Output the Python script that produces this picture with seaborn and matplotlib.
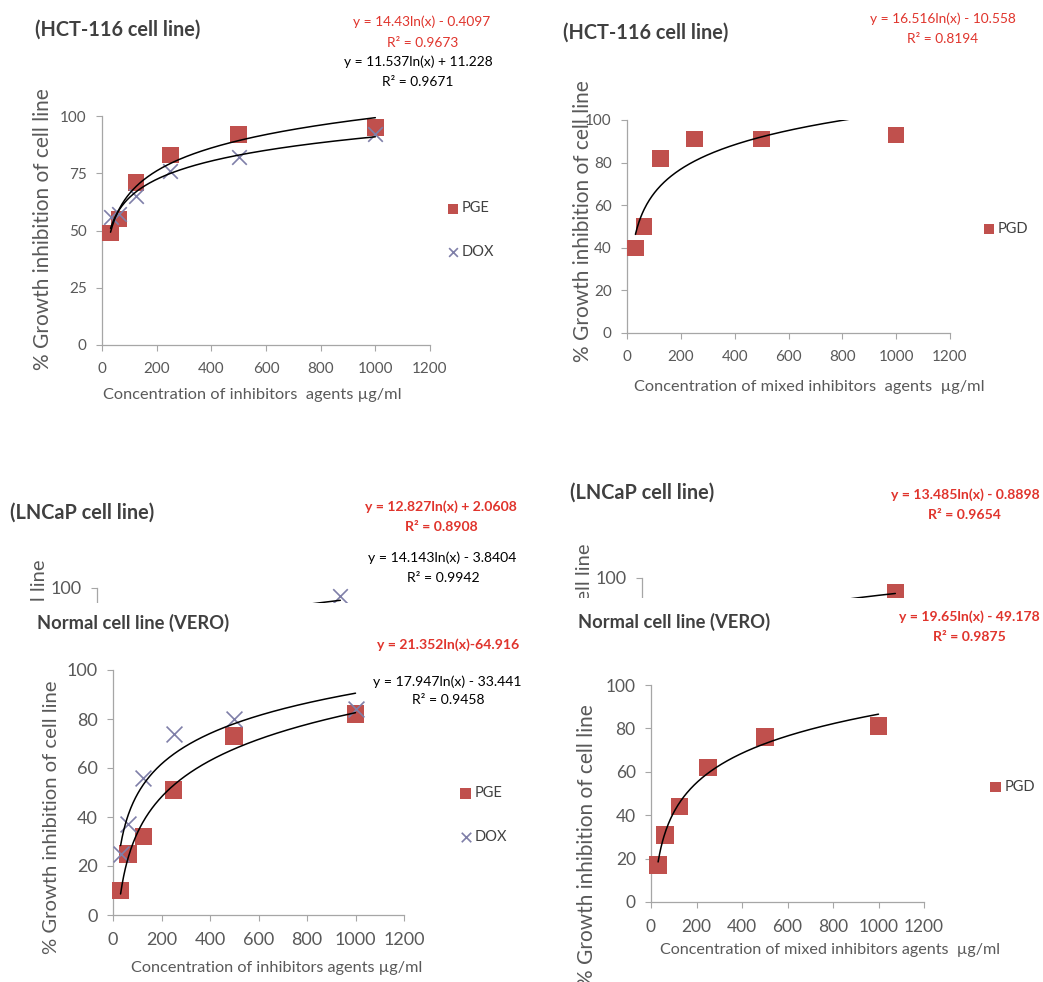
import numpy as np
import matplotlib
matplotlib.use("Agg")
import matplotlib.pyplot as plt
import seaborn as sns
from matplotlib.patches import Rectangle

sns.set_style("ticks")
plt.rcParams['font.family'] = ['Lato', 'DejaVu Sans']

# concentrations (ug/ml)
conc = [31.25, 62.5, 125, 250, 500, 1000]

# % growth inhibition
hct_pge = [49, 55, 71, 83, 92, 95]
hct_dox = [56, 57, 65, 76, 82, 92]
hct_pgd = [40, 50, 82, 91, 91, 93]
vero_pge = [10, 25, 32, 51, 73, 82]
vero_dox = [25, 37, 56, 74, 80, 84]
vero_pgd = [17, 31, 44, 62, 76, 81]
# LNCaP panels are mostly hidden behind the VERO panels, only the last point shows
lncap_conc = [1000]
lncap_dox = [96]
lncap_pgd = [93]

# log trendlines y = a*ln(x) + b
fit_hct_pge = (14.43, -0.4097)
fit_hct_dox = (11.537, 11.228)
fit_hct_pgd = (16.516, -10.558)
fit_lncap_pge = (12.827, 2.0608)
fit_lncap_dox = (14.143, -3.8404)
fit_lncap_pgd = (13.485, -0.8898)
fit_vero_pge = (21.352, -64.916)
fit_vero_dox = (17.947, -33.441)
fit_vero_pgd = (19.65, -49.178)

RED = '#c0504d'
XCOL = '#7f7fa8'
EQRED = '#e0342c'
GRAY = '#595959'
TITLE = '#404040'
YLAB = '% Growth inhibition of cell line'

W, H = 1043, 982
fig = plt.figure(figsize=(W / 100, H / 100), dpi=100)


def px_axes(x0, y0, x1, y1, z=0):
    ax = fig.add_axes([x0 / W, 1 - y1 / H, (x1 - x0) / W, (y1 - y0) / H])
    ax.set_zorder(z)
    return ax


def ftext(x, y, s, **kw):
    kw.setdefault('ha', 'center')
    kw.setdefault('va', 'center')
    return fig.text(x / W, 1 - y / H, s, **kw)


def style_axes(ax, yticks, fs):
    ax.set_xlim(0, 1200)
    ax.set_ylim(0, 100)
    ax.set_xticks(range(0, 1201, 200))
    ax.set_yticks(yticks)
    sns.despine(ax=ax)
    for s in ['left', 'bottom']:
        ax.spines[s].set_color('#a6a6a6')
        ax.spines[s].set_linewidth(0.9)
    ax.tick_params(direction='out', length=4, width=0.8, color='#a6a6a6',
                   labelcolor=GRAY, labelsize=fs)
    ax.tick_params(axis='x', pad=8)
    ax.tick_params(axis='y', pad=7)
    ax.set_facecolor('none')
    ax.set_xlabel('')
    ax.set_ylabel('')


def squares(ax, x, y, label=None, s=140):
    sns.scatterplot(x=x, y=y, marker='s', s=s, color=RED, edgecolor='none',
                    label=label, legend=False, ax=ax, zorder=3, clip_on=False)


def crosses(ax, x, y, label=None, s=110):
    sns.scatterplot(x=x, y=y, marker='x', s=s, color=XCOL, linewidth=1.2,
                    label=label, legend=False, ax=ax, zorder=3, clip_on=False)


def trend(ax, coef):
    xs = np.linspace(31.25, 1000, 300)
    sns.lineplot(x=xs, y=coef[0] * np.log(xs) + coef[1], color='black',
                 linewidth=1.1, ax=ax, zorder=4)


def legend(ax, x, y, spacing, fs=10.5):
    leg = ax.legend(loc='center left', bbox_to_anchor=(x / W, 1 - y / H),
                    bbox_transform=fig.transFigure, frameon=False,
                    markerscale=0.6, labelspacing=spacing, handletextpad=0.1,
                    handlelength=1.0, borderpad=0, fontsize=fs)
    for t in leg.get_texts():
        t.set_color(TITLE)


# ---- HCT-116, PGE / DOX ----
ax = px_axes(102, 116, 430, 345)
squares(ax, conc, hct_pge, 'PGE')
crosses(ax, conc, hct_dox, 'DOX')
trend(ax, fit_hct_pge)
trend(ax, fit_hct_dox)
style_axes(ax, [0, 25, 50, 75, 100], 11)
legend(ax, 438, 230, 2.0)
ftext(35, 30, '(HCT-116 cell line)', ha='left', fontsize=14.3, fontweight='bold', color=TITLE)
ftext(422, 22, 'y = 14.43ln(x) - 0.4097', fontsize=9.9, color=EQRED)
ftext(423, 43, 'R² = 0.9673', fontsize=9.9, color=EQRED)
ftext(418, 62, 'y = 11.537ln(x) + 11.228', fontsize=9.9, color='black')
ftext(418, 82, 'R² = 0.9671', fontsize=9.9, color='black')
ftext(252, 395, 'Concentration of inhibitors  agents µg/ml', fontsize=11.8, color=GRAY)
ftext(43, 229, YLAB, rotation=90, fontsize=15, color=GRAY)

# ---- HCT-116, PGD ----
ax = px_axes(627, 120, 950, 333)
squares(ax, conc, hct_pgd, 'PGD')
trend(ax, fit_hct_pgd)
style_axes(ax, range(0, 101, 20), 11)
legend(ax, 974, 229, 2.0)
ftext(563, 33, '(HCT-116 cell line)', ha='left', fontsize=14.3, fontweight='bold', color=TITLE)
ftext(943, 19, 'y = 16.516ln(x) - 10.558', fontsize=9.9, color=EQRED)
ftext(943, 39, 'R² = 0.8194', fontsize=9.9, color=EQRED)
ftext(809, 387, 'Concentration of mixed inhibitors  agents  µg/ml', fontsize=11.8, color=GRAY)
ftext(583, 221, YLAB, rotation=90, fontsize=15, color=GRAY)

# ---- LNCaP, PGE / DOX (behind) ----
ax = px_axes(97, 588, 389, 788)
crosses(ax, lncap_conc, lncap_dox)
trend(ax, fit_lncap_pge)
trend(ax, fit_lncap_dox)
style_axes(ax, range(0, 101, 20), 13)
ftext(10, 513, '(LNCaP cell line)', ha='left', fontsize=14.3, fontweight='bold', color=TITLE)
ftext(441, 507, 'y = 12.827ln(x) + 2.0608', fontsize=10.1, fontweight='bold', color=EQRED)
ftext(441, 527, 'R² = 0.8908', fontsize=10.1, fontweight='bold', color=EQRED)
ftext(442, 558, 'y = 14.143ln(x) - 3.8404', fontsize=10.1, color='black')
ftext(443, 578, 'R² = 0.9942', fontsize=10.1, color='black')
ftext(40, 560, YLAB, rotation=90, va='top', fontsize=14.5, color=GRAY, zorder=0.5)

# ---- LNCaP, PGD (behind) ----
ax = px_axes(642, 578, 946, 778)
squares(ax, lncap_conc, lncap_pgd)
trend(ax, fit_lncap_pgd)
style_axes(ax, range(0, 101, 20), 13)
ftext(570, 493, '(LNCaP cell line)', ha='left', fontsize=14.3, fontweight='bold', color=TITLE)
ftext(965, 495, 'y = 13.485ln(x) - 0.8898', fontsize=10.1, fontweight='bold', color=EQRED)
ftext(964, 515, 'R² = 0.9654', fontsize=10.1, fontweight='bold', color=EQRED)
ftext(585, 543, YLAB, rotation=90, va='top', fontsize=14.5, color=GRAY, zorder=0.5)

# white sheets: the VERO panels are pasted over the LNCaP ones
fig.patches.append(Rectangle((0, 0), 521 / W, 1 - 602.5 / H, transform=fig.transFigure,
                             facecolor='white', edgecolor='none', zorder=1))
fig.patches.append(Rectangle((521 / W, 0), 1 - 521 / W, 1 - 598 / H, transform=fig.transFigure,
                             facecolor='white', edgecolor='none', zorder=1))

# ---- VERO, PGE / DOX ----
ax = px_axes(113, 670, 404, 915, z=2)
squares(ax, conc, vero_pge, 'PGE', s=160)
crosses(ax, conc, vero_dox, 'DOX', s=130)
trend(ax, fit_vero_pge)
trend(ax, fit_vero_dox)
style_axes(ax, range(0, 101, 20), 13)
legend(ax, 451, 815, 2.0)
ftext(37, 623, 'Normal cell line (VERO)', ha='left', fontsize=13.2, fontweight='bold', color=TITLE)
ftext(448, 645, 'y = 21.352ln(x)-64.916', fontsize=10.1, fontweight='bold', color=EQRED)
ftext(447, 682, 'y = 17.947ln(x) - 33.441', fontsize=10.1, color='black')
ftext(448, 700, 'R² = 0.9458', fontsize=10.1, color='black')
ftext(277, 968, 'Concentration of inhibitors agents µg/ml', fontsize=11.7, color=GRAY)
ftext(52, 817, YLAB, rotation=90, fontsize=14.6, color=GRAY)

# ---- VERO, PGD ----
ax = px_axes(651, 685, 924, 902, z=2)
squares(ax, conc, vero_pgd, 'PGD', s=160)
trend(ax, fit_vero_pgd)
style_axes(ax, range(0, 101, 20), 12.5)
legend(ax, 981, 787, 2.0)
ftext(578, 622, 'Normal cell line (VERO)', ha='left', fontsize=13.2, fontweight='bold', color=TITLE)
ftext(969, 617, 'y = 19.65ln(x) - 49.178', fontsize=10.1, fontweight='bold', color=EQRED)
ftext(969, 637, 'R² = 0.9875', fontsize=10.1, fontweight='bold', color=EQRED)
ftext(830, 950, 'Concentration of mixed inhibitors agents  µg/ml', fontsize=11.6, color=GRAY)
ftext(587, 845, YLAB, rotation=90, fontsize=15, color=GRAY)

fig.savefig('out.png', dpi=100, facecolor='white')
